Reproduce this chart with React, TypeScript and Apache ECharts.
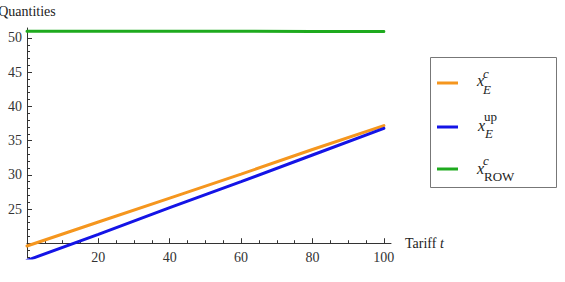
import React, { useEffect, useRef } from "react";
import * as echarts from "echarts";

// Data
const tariff = [0, 20, 40, 60, 80, 100];
const xEc = [19.6, 23.1, 26.6, 30.1, 33.7, 37.2];
const xEup = [17.5, 21.3, 25.2, 29.0, 32.9, 36.8];
const xROW = [51.0, 50.99, 50.98, 50.97, 50.96, 50.95];

const seriesNames = ["xcE", "xupE", "xcROW"];
const seriesColors = ["#f5961e", "#1414e6", "#1eaa1e"];

// Tick labels
const xTickLabels = [20, 40, 60, 80, 100];
const yTickLabels = [25, 30, 35, 40, 45, 50];
const xMinorTicks: number[] = [];
for (let v = 5; v <= 100; v += 5) if (v % 20 !== 0) xMinorTicks.push(v);
const yMinorTicks: number[] = [];
for (let v = 18; v <= 51; v += 1) if (v % 5 !== 0) yMinorTicks.push(v);

const X_MIN = 0, X_MAX = 102;
const Y_MIN = 17.84, Y_MAX = 51.46;
const SERIF = "Liberation Serif";

export default function App() {
  const ref = useRef<HTMLDivElement>(null);
  useEffect(() => {
    if (!ref.current) return;
    const chart = echarts.init(ref.current, null, { renderer: "svg" });
    const gridTop = 28, gridH = 230;
    const pxPerUnit = gridH / (Y_MAX - Y_MIN);
    const xAxisOffset = -(20 - Y_MIN) * pxPerUnit;
    const axisColor = "#333";
    const labelStyle = { color: "#333", fontFamily: SERIF, fontSize: 14 };

    const legendRows = [83, 127, 169];
    const graphic: any[] = [
      {
        type: "rect",
        shape: { x: 430.5, y: 57.5, width: 126, height: 130 },
        style: { fill: "#fff", stroke: "#777", lineWidth: 1 },
        z: 10,
      },
    ];
    legendRows.forEach((y, i) => {
      graphic.push({
        type: "line",
        shape: { x1: 437, y1: y, x2: 458, y2: y },
        style: { stroke: seriesColors[i], lineWidth: 3 },
        z: 11,
      });
    });
    const t = (text: string, x: number, y: number, size: number, italic: boolean) => ({
      type: "text",
      x,
      y,
      z: 11,
      style: {
        text,
        fontFamily: SERIF,
        fontSize: size,
        fontStyle: italic ? "italic" : "normal",
        fill: "#222",
        verticalAlign: "middle",
        align: "left",
      },
    });
    graphic.push(t("x", 477, 80, 16, true), t("c", 483, 73, 13, true), t("E", 483, 89, 13, true));
    graphic.push(t("x", 478, 125, 16, true), t("up", 484, 116, 13, false), t("E", 485, 133, 13, true));
    graphic.push(t("x", 477, 168, 16, true), t("c", 483, 160, 13, true), t("ROW", 484, 176, 13, false));

    const mk = (vals: number[]) => tariff.map((x, i) => [x, vals[i]]);

    chart.setOption({
      animation: false,
      grid: {
        left: 27,
        top: gridTop,
        width: 364,
        height: gridH,
        containLabel: false,
        outerBoundsMode: "none",
      },
      xAxis: [
        {
          type: "value",
          min: X_MIN,
          max: X_MAX,
          position: "bottom",
          offset: xAxisOffset,
          axisLine: { show: true, onZero: false, lineStyle: { color: axisColor, width: 1 } },
          axisTick: { show: true, inside: true, length: 5, customValues: xTickLabels, lineStyle: { color: axisColor } },
          axisLabel: { show: true, customValues: xTickLabels, margin: 7, ...labelStyle },
          splitLine: { show: false },
          name: "Tariff {i|t}",
          nameLocation: "end",
          nameGap: 14,
          nameTextStyle: {
            fontFamily: SERIF,
            fontSize: 14,
            color: "#222",
            rich: { i: { fontFamily: SERIF, fontSize: 14, fontStyle: "italic", color: "#222" } },
          },
        },
        {
          type: "value",
          min: X_MIN,
          max: X_MAX,
          position: "bottom",
          offset: xAxisOffset,
          axisLine: { show: false, onZero: false },
          axisTick: { show: true, inside: true, length: 3, customValues: xMinorTicks, lineStyle: { color: axisColor } },
          axisLabel: { show: false },
          splitLine: { show: false },
        },
      ],
      yAxis: [
        {
          type: "value",
          min: Y_MIN,
          max: Y_MAX,
          position: "left",
          axisLine: { show: true, onZero: false, lineStyle: { color: axisColor, width: 1 } },
          axisTick: { show: true, inside: true, length: 5, customValues: yTickLabels, lineStyle: { color: axisColor } },
          axisLabel: { show: true, customValues: yTickLabels, margin: 5, ...labelStyle },
          splitLine: { show: false },
          name: "Quantities",
          nameLocation: "end",
          nameGap: 10,
          nameTextStyle: { fontFamily: SERIF, fontSize: 14, color: "#222" },
        },
        {
          type: "value",
          min: Y_MIN,
          max: Y_MAX,
          position: "left",
          axisLine: { show: false, onZero: false },
          axisTick: { show: true, inside: true, length: 3, customValues: yMinorTicks, lineStyle: { color: axisColor } },
          axisLabel: { show: false },
          splitLine: { show: false },
        },
      ],
      series: [xEc, xEup, xROW].map((vals, i) => ({
        name: seriesNames[i],
        type: "line",
        xAxisIndex: 0,
        yAxisIndex: 0,
        data: mk(vals),
        showSymbol: false,
        symbol: "none",
        clip: true,
        lineStyle: { color: seriesColors[i], width: 3, cap: "round" },
        itemStyle: { color: seriesColors[i] },
      })),
      graphic,
    });
    return () => chart.dispose();
  }, []);
  return (
    <div
      ref={ref}
      style={{ position: "absolute", left: 0, top: 0, width: 565, height: 282, background: "#fff" }}
    />
  );
}
